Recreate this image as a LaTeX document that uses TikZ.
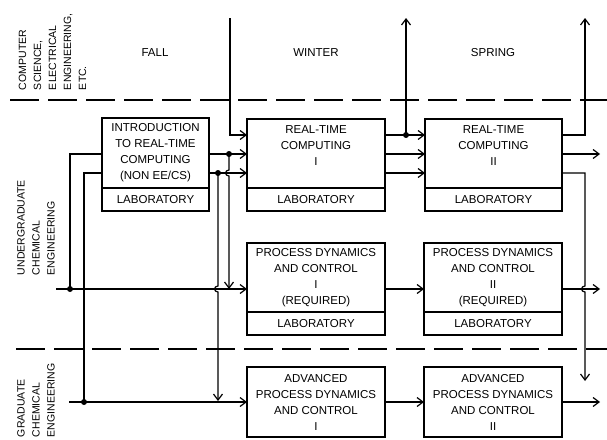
\documentclass[tikz,border=0pt]{standalone}
\usepackage{fontspec}
\setmainfont{Liberation Sans}
\usetikzlibrary{arrows.meta,calc}
\begin{document}
\begin{tikzpicture}[x=1pt,y=-1pt,
  every node/.style={font=\fontsize{11.5}{16}\selectfont, inner sep=0pt, outer sep=0pt},
  box/.style={draw, line width=1.5pt, anchor=north west, align=center, minimum width=#1, minimum height=69pt},
  labbox/.style={draw, line width=1.5pt, anchor=north west, align=center, minimum width=#1, minimum height=23pt},
  side/.style={rotate=90, anchor=west, align=left, font=\fontsize{10.5}{15}\selectfont},
  conn/.style={line width=1.2pt},
  arr/.style={conn, -{Straight Barb[length=6pt,width=9pt,line width=1.2pt]}},
  sep/.style={line width=1.5pt, dash pattern=on 29pt off 9pt},
  dot/.style={fill=black}
]
\useasboundingbox (0,0) rectangle (607,439);
% separators
\draw[sep] (10,100) -- (607,100);
\draw[sep] (16,349) -- (607,349);
% headers
\node (fall) at (155,53) {FALL};
\node (winter) at (316,53) {WINTER};
\node (spring) at (493,53) {SPRING};
\node[side] (cs) at (52.5,90) {COMPUTER\\SCIENCE,\\ELECTRICAL\\ENGINEERING,\\ETC.};
\node[side] (ug) at (36,275) {UNDERGRADUATE\\CHEMICAL\\ENGINEERING};
\node[side] (gr) at (36,437) {GRADUATE\\CHEMICAL\\ENGINEERING};
% boxes
\node[box=107pt, minimum height=70pt] (intro) at (102,118) {INTRODUCTION\\TO REAL-TIME\\COMPUTING\\(NON EE/CS)};
\node[labbox=107pt] (introlab) at (intro.south west) {LABORATORY};
\node[box=138pt] (rtc1) at (247,119) {REAL-TIME\\COMPUTING\\I\\~};
\node[labbox=138pt] (rtc1lab) at (rtc1.south west) {LABORATORY};
\node[box=137pt] (rtc2) at (425,119) {REAL-TIME\\COMPUTING\\II\\~};
\node[labbox=137pt] (rtc2lab) at (rtc2.south west) {LABORATORY};
\node[box=138pt] (pdc1) at (247,243) {PROCESS DYNAMICS\\AND CONTROL\\I\\(REQUIRED)};
\node[labbox=138pt] (pdc1lab) at (pdc1.south west) {LABORATORY};
\node[box=138pt] (pdc2) at (424,243) {PROCESS DYNAMICS\\AND CONTROL\\II\\(REQUIRED)};
\node[labbox=138pt] (pdc2lab) at (pdc2.south west) {LABORATORY};
\node[box=138pt, minimum height=70pt] (apdc1) at (247,367) {ADVANCED\\PROCESS DYNAMICS\\AND CONTROL\\I};
\node[box=138pt, minimum height=70pt] (apdc2) at (424,367) {ADVANCED\\PROCESS DYNAMICS\\AND CONTROL\\II};
% levels and junctions
\coordinate (yA) at (0,135);
\coordinate (yB) at (0,154);
\coordinate (yC) at (0,173);
\coordinate (yP) at (0,289);
\coordinate (yQ) at (0,402);
\coordinate (top1) at (230,18);
\coordinate (d1) at (229,154);
\coordinate (d2) at (218,173);
\coordinate (dL1) at (70,289);
\coordinate (inL1) at (56,289);
\coordinate (dL2) at (84,402);
\coordinate (inL2) at (69,402);
\coordinate (dR) at (406,135);
\coordinate (top2) at (406,18);
\coordinate (xr) at (585,0);
\coordinate (top3) at (585,18);
\coordinate (bot3) at (585,381);
\coordinate (outR) at (600,0);
% fall -> winter
\draw[arr] (top1) |- (rtc1.west |- yA);
\draw[arr] (intro.east |- yB) -- (rtc1.west |- yB);
\draw[arr] (intro.east |- yC) -- (rtc1.west |- yC);
\draw[arr] (d1) -- ($(d1 |- yC)+(0,-3)$) .. controls +(-4.5,0) and +(-4.5,0) .. ($(d1 |- yC)+(0,3)$) -- (d1 |- yP);
\draw[arr] (d2) -- ($(d2 |- yP)+(0,-3)$) .. controls +(-4.5,0) and +(-4.5,0) .. ($(d2 |- yP)+(0,3)$) -- ($(d2 |- yQ)+(0,-1)$);
\fill[dot] (d1) circle (3pt);
\fill[dot] (d2) circle (3pt);
% left inputs
\draw[arr] (inL1) -- (pdc1.west |- yP);
\draw[conn] (dL1) |- (intro.west |- yB);
\fill[dot] (dL1) circle (3pt);
\draw[arr] (inL2) -- (apdc1.west |- yQ);
\draw[conn] (dL2) |- (intro.west |- yC);
\fill[dot] (dL2) circle (3pt);
% winter -> spring
\draw[arr] (rtc1.east |- yA) -- (rtc2.west |- yA);
\draw[arr] (rtc1.east |- yB) -- (rtc2.west |- yB);
\draw[arr] (rtc1.east |- yC) -- (rtc2.west |- yC);
\draw[arr] (dR) -- (top2);
\fill[dot] (dR) circle (3pt);
\draw[arr] (pdc1.east |- yP) -- (pdc2.west |- yP);
\draw[arr] (apdc1.east |- yQ) -- (apdc2.west |- yQ);
% spring outputs
\draw[arr] (rtc2.east |- yA) -| (top3);
\draw[arr] (rtc2.east |- yB) -- (outR |- yB);
\draw[arr] (rtc2.east |- yC) -| ($(xr |- yP)+(0,-3)$) .. controls +(-4.5,0) and +(-4.5,0) .. ($(xr |- yP)+(0,3)$) -- (bot3);
\draw[arr] (pdc2.east |- yP) -- (outR |- yP);
\draw[arr] (apdc2.east |- yQ) -- (outR |- yQ);
\end{tikzpicture}
\end{document}
